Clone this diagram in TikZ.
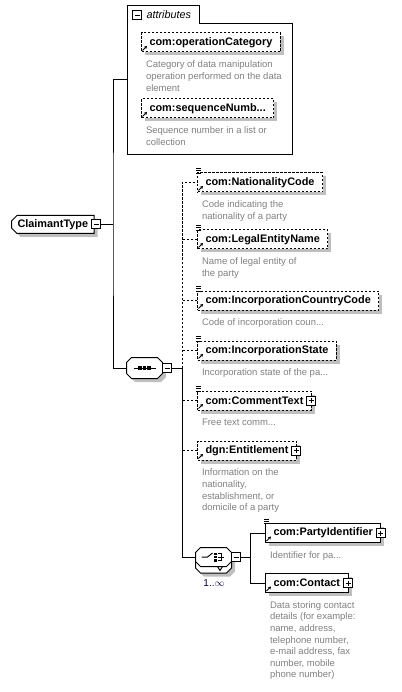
\documentclass[tikz,border=0pt]{standalone}
\usepackage{fontspec}
\setmainfont{Liberation Sans}
\usetikzlibrary{
    positioning,
    shapes.misc,
    shadows,
    arrows.meta,
    calc
}

\tikzset{
    navn/.style={font=\fontsize{10.9}{13}\selectfont\bfseries},
    skygge/.style={drop shadow={shadow xshift=3.5pt, shadow yshift=-3.5pt, fill=black!25, opacity=1}},
    element/.style={navn, draw, fill=white, skygge, minimum height=19pt, inner xsep=8pt, inner ysep=0pt, anchor=west},
    stiplet/.style={dash pattern=on 2.5pt off 1.5pt},
    valgfri/.style={element, stiplet},
    forklaring/.style={font=\fontsize{9.5}{11.6}\selectfont, text=black!50, align=left, inner sep=0pt, anchor=north west},
    knapp/.style={draw, solid, fill=white, minimum size=9pt, inner sep=0pt},
    minus/.style={knapp, path picture={
        \draw ([xshift=2pt]path picture bounding box.west) -- ([xshift=-2pt]path picture bounding box.east);}},
    pluss/.style={knapp, path picture={
        \draw ([xshift=2pt]path picture bounding box.west) -- ([xshift=-2pt]path picture bounding box.east);
        \draw ([yshift=-2pt]path picture bounding box.north) -- ([yshift=2pt]path picture bounding box.south);}},
    modell/.style={minimum width=35pt, inner sep=0pt}
}

\begin{document}
\begin{tikzpicture}[x=1pt, y=-1pt, line width=1pt]
    \useasboundingbox (0,0) rectangle (401,692);

    % Attributter (mappe med fane)
    \draw[fill=white] (127,6) -- (199,6) -- (199,24) -- (292,24) -- (292,155) -- (127,155) -- cycle;
    \node[minus] (attrMinus) at (137,15.5) {};
    \node[font=\fontsize{10.8}{13}\selectfont\itshape, anchor=west, inner sep=0pt] (attrTekst) at (146,15) {attributes};
    \coordinate (attrInn) at (127,80);

    \node[valgfri] (opKat) at (141,42.5) {com:operationCategory};
    \node[forklaring] (opKatTekst) at ([shift={(4.5pt,-8pt)}]opKat.south west) {Category of data manipulation\\operation performed on the data\\element};
    \node[valgfri] (sekNr) at (141,108.5) {com:sequenceNumb...};
    \node[forklaring] (sekNrTekst) at ([shift={(4.5pt,-8pt)}]sekNr.south west) {Sequence number in a list or\\collection};

    % Hovedtype
    \node[navn, draw, fill=white, skygge, chamfered rectangle, chamfered rectangle corners={north west, south west},
          chamfered rectangle xsep=2pt, minimum height=18pt, inner xsep=4pt, inner ysep=0pt, anchor=west]
          (claimant) at (11,224.5) {ClaimantType\hspace{10pt}};
    \node[minus] (claimantMinus) at ([xshift=1.5pt]claimant.east) {};
    \coordinate (buss1) at (113,224.5);

    % Sekvens og valg (aattekanter)
    \node[modell, minimum height=20pt] (sekvens) at (144.5,368) {};
    \node[modell, minimum height=18pt] (valgBak) at (213.5,563.5) {};
    \node[modell, minimum height=18pt] (valg) at (213.5,557) {};
    \foreach \n/\stil in {sekvens/skygge, valgBak/skygge, valg/{}}
        \draw[fill=white, \stil] ([xshift=5pt]\n.north west) -- ([xshift=-5pt]\n.north east) -- ([yshift=-5pt]\n.north east)
            -- ([yshift=5pt]\n.south east) -- ([xshift=-5pt]\n.south east) -- ([xshift=5pt]\n.south west)
            -- ([yshift=5pt]\n.south west) -- ([yshift=-5pt]\n.north west) -- cycle;

    \draw ([xshift=-11pt]sekvens.center) -- ([xshift=11pt]sekvens.center);
    \foreach \dx in {-4.5,0,4.5}
        \fill ([xshift=\dx pt]sekvens.center) +(-1.6pt,-1.6pt) rectangle +(1.6pt,1.6pt);
    \node[minus] (sekMinus) at ([xshift=4.5pt]sekvens.east) {};
    \coordinate (buss2) at (182,368);

    \draw ([xshift=4pt]valg.south) -- ++(2.5pt,-4pt) -- ++(2.5pt,4pt);
    \draw ([xshift=-12pt]valg.center) -- ([xshift=-6pt]valg.center) -- ([shift={(-1pt,4pt)}]valg.center);
    \foreach \dy in {-3.2,0,3.2}
        \fill ([shift={(2pt,\dy pt)}]valg.center) +(-1.3pt,-1.3pt) rectangle +(1.3pt,1.3pt);
    \draw ([shift={(4.5pt,3.5pt)}]valg.center) -- ++(3pt,0) -- ++(0,-7pt) -- ++(-3pt,0);
    \draw ([xshift=4.5pt]valg.center) -- ([xshift=10pt]valg.center);
    \node[minus] (valgMinus) at ([xshift=4.5pt]valg.east) {};
    \node[font=\fontsize{10}{12}\selectfont, text=black!80!blue, inner sep=0pt] (valgAntall) at (214,583) {1..$\infty$};
    \coordinate (buss3) at (250,557);

    % Barn av sekvensen
    \node[valgfri] (nasj) at (197,182.5) {com:NationalityCode};
    \node[forklaring] (nasjTekst) at ([shift={(4.5pt,-8pt)}]nasj.south west) {Code indicating the\\nationality of a party};
    \node[valgfri] (jur) at (197,239.5) {com:LegalEntityName};
    \node[forklaring] (jurTekst) at ([shift={(4.5pt,-8pt)}]jur.south west) {Name of legal entity of\\the party};
    \node[valgfri] (innLand) at (197,300.5) {com:IncorporationCountryCode};
    \node[forklaring] (innLandTekst) at ([shift={(4.5pt,-8pt)}]innLand.south west) {Code of incorporation coun...};
    \node[valgfri] (innStat) at (197,350.5) {com:IncorporationState};
    \node[forklaring] (innStatTekst) at ([shift={(4.5pt,-8pt)}]innStat.south west) {Incorporation state of the pa...};
    \node[valgfri] (kommentar) at (197,400.5) {com:CommentText\hspace{5pt}};
    \node[pluss] (kommentarPluss) at ([xshift=-0.5pt]kommentar.east) {};
    \node[forklaring] (kommentarTekst) at ([shift={(4.5pt,-8pt)}]kommentar.south west) {Free text comm...};
    \node[valgfri] (rett) at (197,450.5) {dgn:Entitlement\hspace{5pt}};
    \node[pluss] (rettPluss) at ([xshift=-0.5pt]rett.east) {};
    \node[forklaring] (rettTekst) at ([shift={(4.5pt,-8pt)}]rett.south west) {Information on the\\nationality,\\establishment, or\\domicile of a party};

    % Barn av valget
    \node[element] (partId) at (265,533) {com:PartyIdentifier\hspace{5pt}};
    \node[pluss] (partIdPluss) at ([xshift=-0.5pt]partId.east) {};
    \node[forklaring] (partIdTekst) at ([shift={(4.5pt,-8pt)}]partId.south west) {Identifier for pa...};
    \node[element] (kontakt) at (265,583) {com:Contact\hspace{5pt}};
    \node[pluss] (kontaktPluss) at ([xshift=-0.5pt]kontakt.east) {};
    \node[forklaring] (kontaktTekst) at ([shift={(4.5pt,-8pt)}]kontakt.south west) {Data storing contact\\details (for example:\\name, address,\\telephone number,\\e-mail address, fax\\number, mobile\\phone number)};

    % Ikoner: referansepil og enkel type
    \foreach \n in {opKat, sekNr, nasj, jur, innLand, innStat, kommentar, rett, partId, kontakt}
        \draw[-{Stealth[length=3pt, width=3.5pt]}, line width=0.8pt] ([shift={(1.5pt,2pt)}]\n.south west) -- ++(4.5pt,4.5pt);
    \foreach \n in {nasj, jur, innLand, innStat, kommentar, partId}
        \foreach \dy in {4,1.8,-0.4}
            \draw[line width=0.6pt] ([shift={(-1pt,\dy pt)}]\n.north west) -- ++(5pt,0);

    % Linjer
    \draw (claimantMinus) -- (buss1);
    \draw (attrInn) -| (buss1) |- (sekvens);
    \draw (sekMinus) -- (buss2);
    \draw[stiplet] (buss2) |- (nasj.west);
    \foreach \n in {jur, innLand, innStat, kommentar, rett}
        \draw[stiplet] (\n.west) -- (\n.west -| buss2);
    \draw (buss2) |- (valg.west);
    \draw (valgMinus) -- (buss3);
    \draw (buss3) |- (partId.west);
    \draw (buss3) |- (kontakt.west);
\end{tikzpicture}
\end{document}
